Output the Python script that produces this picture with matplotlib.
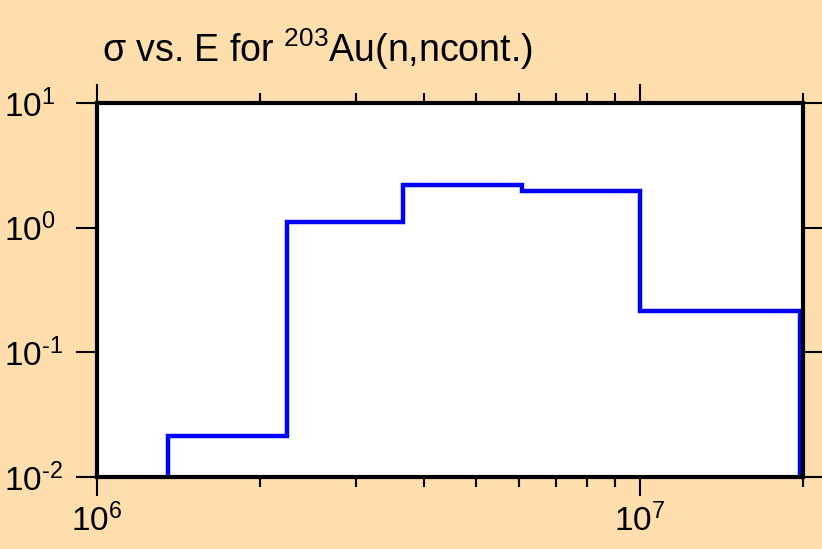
import matplotlib
matplotlib.use('Agg')
import matplotlib.pyplot as plt
import matplotlib.ticker as ticker
import numpy as np

# bin edges (eV) and cross sections (b)
edges = [1.35e6, 2.24e6, 3.67e6, 6.06e6, 1.0e7, 1.975e7]
sigma = [0.0215, 1.11, 2.19, 1.98, 0.213]

plt.rcParams['font.family'] = ['Liberation Sans', 'DejaVu Sans']
plt.rcParams['mathtext.fontset'] = 'custom'
plt.rcParams['mathtext.rm'] = 'Liberation Sans'
plt.rcParams['mathtext.it'] = 'Liberation Sans'
plt.rcParams['mathtext.sf'] = 'Liberation Sans'


def powfmt(v, pos):
    e = int(round(np.log10(v)))
    s = str(e).replace('-', '\u2010')
    return r'$\mathdefault{10^{%s}}$' % s


bg = '#FFDEAD'
fig = plt.figure(figsize=(8.22, 5.49), dpi=100, facecolor=bg)
ax = fig.add_axes([97/822, 1 - 477/549, 706/822, 374/549])
ax.set_facecolor('white')

ax.stairs(sigma, edges, baseline=1e-3, color='#0000ff', lw=3.2)

ax.set_xscale('log')
ax.set_yscale('log')
ax.set_xlim(1e6, 2e7)
ax.set_ylim(1e-2, 1e1)
ax.yaxis.set_minor_locator(ticker.NullLocator())
ax.xaxis.set_minor_locator(ticker.LogLocator(subs=range(2, 10)))
ax.xaxis.set_minor_formatter(ticker.NullFormatter())
ax.xaxis.set_major_formatter(ticker.FuncFormatter(powfmt))
ax.yaxis.set_major_formatter(ticker.FuncFormatter(powfmt))

for s in ax.spines.values():
    s.set_linewidth(3)

ax.tick_params(which='both', direction='out', top=True, right=True,
               width=1.5, labelsize=24, colors='black')
ax.tick_params(which='major', length=14, pad=5)
ax.tick_params(which='minor', length=7)
ax.tick_params(axis='y', which='major', length=15, pad=52)
for lab in ax.get_yticklabels():
    lab.set_horizontalalignment('left')

fig.text(102/822, 1 - 62/549, r'σ vs. E for $^{203}$Au(n,ncont.)',
         fontsize=27, ha='left', va='baseline')

fig.savefig('out.png', dpi=100, facecolor=bg)
